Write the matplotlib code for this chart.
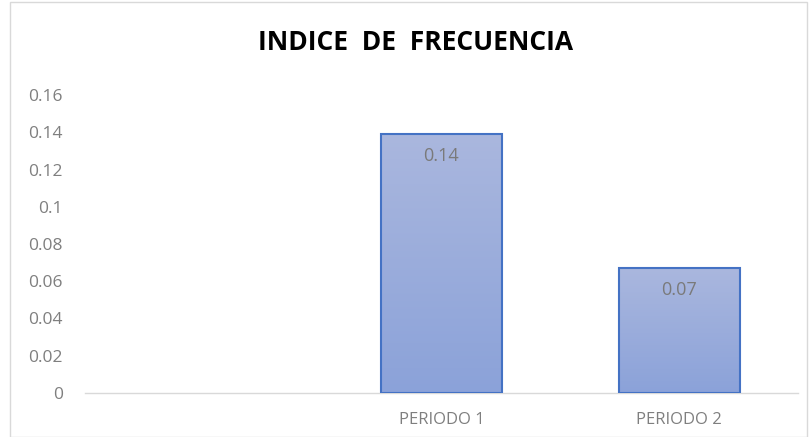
import numpy as np
import matplotlib.pyplot as plt
from matplotlib.patches import Rectangle
from matplotlib.colors import LinearSegmentedColormap

categories = ['', 'PERIODO 1', 'PERIODO 2']
values = [0, 0.139, 0.067]
labels = ['', '0.14', '0.07']
yticks = [0, 0.02, 0.04, 0.06, 0.08, 0.1, 0.12, 0.14, 0.16]
ytick_labels = ['0', '0.02', '0.04', '0.06', '0.08', '0.1', '0.12', '0.14', '0.16']

plt.rcParams['font.family'] = ['Open Sans', 'DejaVu Sans']

fig = plt.figure(figsize=(8.11, 4.37), dpi=100)
# chart border
fig.patches.append(Rectangle((10 / 811, 0.0), 0.995 - 10 / 811, 0.995, transform=fig.transFigure,
                             fill=False, edgecolor='#d9d9d9', linewidth=1))

ax = fig.add_axes([85 / 811, 44 / 437, 713 / 811, 298 / 437])
x = np.arange(len(categories))
width = 0.51
cmap = LinearSegmentedColormap.from_list('grad', ['#8ba2d9', '#aab7de'])
grad = np.linspace(0, 1, 256).reshape(-1, 1)

for xi, v, lab in zip(x, values, labels):
    if v <= 0:
        continue
    bar = ax.bar(xi, v, width=width, color='none', edgecolor='#4472c4', linewidth=1.5, zorder=3)[0]
    im = ax.imshow(grad, cmap=cmap, aspect='auto', origin='lower',
                   extent=[xi - width / 2, xi + width / 2, 0, v], zorder=2)
    im.set_clip_path(bar)
    ax.text(xi, v - 0.0118, lab, ha='center', va='center', fontsize=13, color='#7a7a7a', zorder=4)

ax.set_xlim(-0.5, 2.5)
ax.set_ylim(0, 0.16)
ax.set_xticks(x)
ax.set_xticklabels(categories, fontsize=12, color='#7f7f7f')
ax.set_yticks(yticks)
ax.set_yticklabels(ytick_labels, fontsize=12.5, color='#7f7f7f')
ax.tick_params(axis='y', length=0, pad=16)
ax.tick_params(axis='x', length=0, pad=14)
for s in ['top', 'right', 'left']:
    ax.spines[s].set_visible(False)
ax.spines['bottom'].set_color('#d9d9d9')
ax.spines['bottom'].set_linewidth(1)

fig.text(0.512, 0.902, 'INDICE  DE  FRECUENCIA', ha='center', va='center',
         fontsize=19, fontweight='bold', color='black')

fig.savefig('out.png', dpi=100)
